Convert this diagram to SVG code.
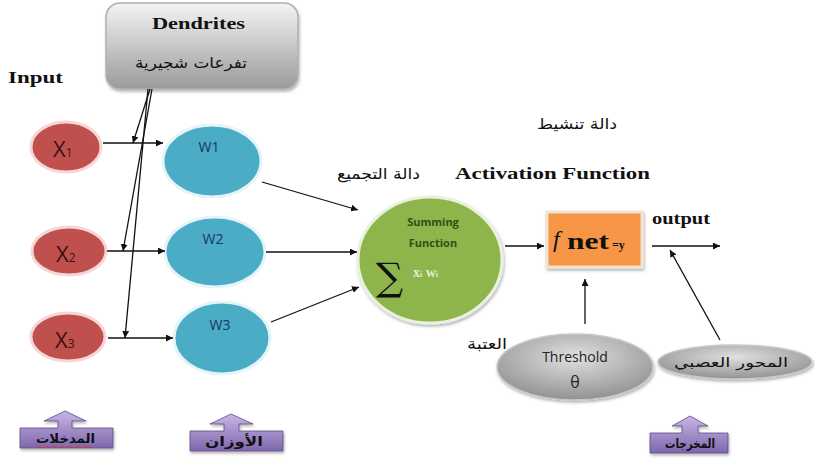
<svg xmlns="http://www.w3.org/2000/svg" width="815" height="467" viewBox="0 0 815 467">
<style>
.ser{font-family:"Liberation Serif","DejaVu Serif",serif;font-weight:bold;fill:#111}
.ar{font-family:"DejaVu Sans",sans-serif;fill:#111}
.sans{font-family:"Open Sans","DejaVu Sans",sans-serif}
.ln{stroke:#111;stroke-width:1.3;fill:none}
.xn{fill:#c0504d;stroke:#f6d6d6;stroke-width:3}
.wn{fill:#4bacc6;stroke:#e4f4f9;stroke-width:3}
.lbl{font-family:"Open Sans","DejaVu Sans",sans-serif;font-size:14px;fill:#17375e;text-anchor:middle}
.xl{font-family:"Open Sans","DejaVu Sans",sans-serif;font-size:22px;fill:#3a1010}
.call{fill:url(#pg);stroke:#5d4a86;stroke-width:0.8}
.ct{font-family:"DejaVu Sans",sans-serif;font-size:13px;font-weight:bold;fill:#111}
</style>
<defs>
<marker id="ah" viewBox="0 0 10 10" refX="10" refY="5" markerWidth="7" markerHeight="7" markerUnits="userSpaceOnUse" orient="auto"><path d="M0,0 L10,5 L0,10 z" fill="#111"/></marker>
<linearGradient id="gg" x1="0" y1="0" x2="0" y2="1"><stop offset="0" stop-color="#f4f4f4"/><stop offset="1" stop-color="#9a9a9a"/></linearGradient>
<radialGradient id="eg" cx="0.5" cy="0.35" r="0.7"><stop offset="0" stop-color="#e0e0e0"/><stop offset="1" stop-color="#8c8c8c"/></radialGradient>
<linearGradient id="pg" x1="0" y1="0" x2="0" y2="1"><stop offset="0" stop-color="#c9b6e6"/><stop offset="1" stop-color="#7e66ac"/></linearGradient>
<filter id="sh" x="-10%" y="-10%" width="130%" height="130%"><feDropShadow dx="1" dy="2" stdDeviation="1.5" flood-color="#000" flood-opacity="0.3"/></filter>
</defs>

<rect width="815" height="467" fill="#fff"/>

<text class="ser" x="8" y="83" font-size="17" textLength="55" lengthAdjust="spacingAndGlyphs">Input</text>

<g id="dendrites">
<rect x="106" y="3" width="192" height="86" rx="14" fill="url(#gg)" stroke="#b0b0b0" stroke-width="1.5" filter="url(#sh)"/>
<text class="ser" x="152" y="29" font-size="17" textLength="93" lengthAdjust="spacingAndGlyphs">Dendrites</text>
<text class="ar" x="135" y="68" font-size="15" textLength="112" lengthAdjust="spacingAndGlyphs">تفرعات شجيرية</text>
</g>

<g id="x1"><ellipse class="xn" cx="66" cy="147" rx="35" ry="25"/><text class="xl" x="53" y="157">X<tspan font-size="12">1</tspan></text></g>
<g id="x2"><ellipse class="xn" cx="69" cy="251" rx="37" ry="24"/><text class="xl" x="56" y="262">X<tspan font-size="12">2</tspan></text></g>
<g id="x3"><ellipse class="xn" cx="68" cy="337" rx="37" ry="24"/><text class="xl" x="55" y="348">X<tspan font-size="12">3</tspan></text></g>

<g id="w1"><ellipse class="wn" cx="212" cy="161" rx="49" ry="36"/><text class="lbl" x="209" y="152">W1</text></g>
<g id="w2"><ellipse class="wn" cx="215" cy="252" rx="50" ry="35"/><text class="lbl" x="213" y="244">W2</text></g>
<g id="w3"><ellipse class="wn" cx="222" cy="338" rx="48" ry="36"/><text class="lbl" x="220" y="330">W3</text></g>

<g id="summing">
<ellipse cx="430" cy="260" rx="72" ry="63" fill="#8db54c" stroke="#e9f0dc" stroke-width="3" filter="url(#sh)"/>
<text class="sans" x="433" y="226" font-size="11" font-weight="bold" fill="#2f4f12" text-anchor="middle">Summing</text>
<text class="sans" x="433" y="247" font-size="11" font-weight="bold" fill="#2f4f12" text-anchor="middle">Function</text>
<text x="376" y="290" font-family="DejaVu Serif,serif" font-size="38" fill="#111">∑</text>
<text x="413" y="277" font-family="Liberation Serif,serif" font-weight="bold" font-size="14" fill="#e4ecd4">x<tspan font-size="8">i</tspan> w<tspan font-size="8">i</tspan></text>
</g>
<text class="ar" x="337" y="179" font-size="15" textLength="83" lengthAdjust="spacingAndGlyphs">دالة التجميع</text>

<text class="ar" x="537" y="129" font-size="15" textLength="80" lengthAdjust="spacingAndGlyphs">دالة تنشيط</text>
<text class="ser" x="455" y="179" font-size="17" textLength="195" lengthAdjust="spacingAndGlyphs">Activation Function</text>

<g id="activation">
<rect x="547" y="212" width="95" height="55" fill="#f79646" stroke="#f2e2d4" stroke-width="3" filter="url(#sh)"/>
<text x="553" y="247" font-family="Liberation Serif,serif" font-style="italic" font-size="24" fill="#111">f</text>
<text x="567" y="249" font-family="Liberation Serif,serif" font-weight="bold" font-size="23" fill="#111" textLength="42" lengthAdjust="spacingAndGlyphs">net</text>
<text x="612" y="249" font-family="Liberation Serif,serif" font-weight="bold" font-size="12" fill="#111">=y</text>
</g>

<text class="ser" x="652" y="224" font-size="17" textLength="58" lengthAdjust="spacingAndGlyphs">output</text>

<g id="threshold">
<ellipse cx="575" cy="367" rx="78" ry="33" fill="url(#eg)" stroke="#c8c8c8" stroke-width="1.5" filter="url(#sh)"/>
<text class="sans" x="575" y="362" font-size="14" fill="#222" text-anchor="middle">Threshold</text>
<text class="sans" x="575" y="388" font-size="16" fill="#222" text-anchor="middle">θ</text>
</g>
<text class="ar" x="467" y="349" font-size="15" textLength="40" lengthAdjust="spacingAndGlyphs">العتبة</text>

<g id="axon">
<ellipse cx="735" cy="362" rx="77" ry="17" fill="url(#eg)" stroke="#c8c8c8" stroke-width="1.5" filter="url(#sh)"/>
<text class="ar" x="674" y="367" font-size="13" textLength="114" lengthAdjust="spacingAndGlyphs">المحور العصبي</text>
</g>

<g id="connectors">
<line class="ln" x1="103" y1="143" x2="163" y2="143" marker-end="url(#ah)"/>
<line class="ln" x1="107" y1="251" x2="165" y2="251" marker-end="url(#ah)"/>
<line class="ln" x1="108" y1="338" x2="173" y2="338" marker-end="url(#ah)"/>
<line class="ln" x1="150" y1="89" x2="133" y2="143" marker-end="url(#ah)"/>
<line class="ln" x1="152" y1="89" x2="123" y2="251" marker-end="url(#ah)"/>
<line class="ln" x1="148" y1="89" x2="125" y2="338" marker-end="url(#ah)"/>
<line class="ln" x1="262" y1="182" x2="358" y2="210" marker-end="url(#ah)"/>
<line class="ln" x1="266" y1="252" x2="357" y2="252" marker-end="url(#ah)"/>
<line class="ln" x1="271" y1="322" x2="359" y2="287" marker-end="url(#ah)"/>
<line class="ln" x1="505" y1="246" x2="544" y2="246" marker-end="url(#ah)"/>
<line class="ln" x1="652" y1="246" x2="720" y2="246" marker-end="url(#ah)"/>
<line class="ln" x1="720" y1="340" x2="670" y2="250" marker-end="url(#ah)"/>
<line class="ln" x1="585" y1="324" x2="585" y2="279" marker-end="url(#ah)"/>
</g>

<g id="inputs-callout">
<path class="call" d="M20,428 H58 V421 H44 L65,411 L86,421 H72 V428 H113 V448 H20 Z" filter="url(#sh)"/>
<text class="ct" x="36" y="443" textLength="59" lengthAdjust="spacingAndGlyphs">المدخلات</text>
<path d="M36,447 q2,-2 4,0 t4,0 t4,0 t4,0 t4,0 t4,0 t4,0 t4,0 t4,0 t4,0 t4,0 t4,0 t4,0 t4,0" fill="none" stroke="#d33" stroke-width="0.8"/>
</g>
<g id="weights-callout">
<path class="call" d="M190,431 H224 V424 H210 L231,414 L253,424 H239 V431 H283 V451 H190 Z" filter="url(#sh)"/>
<text class="ct" x="205" y="446" textLength="58" lengthAdjust="spacingAndGlyphs">الأوزان</text>
</g>
<g id="outputs-callout">
<path class="call" d="M650,433 H682 V426 H672 L690,416 L708,426 H698 V433 H728 V453 H650 Z" filter="url(#sh)"/>
<text class="ct" x="665" y="448" textLength="50" lengthAdjust="spacingAndGlyphs">المخرجات</text>
</g>
</svg>
